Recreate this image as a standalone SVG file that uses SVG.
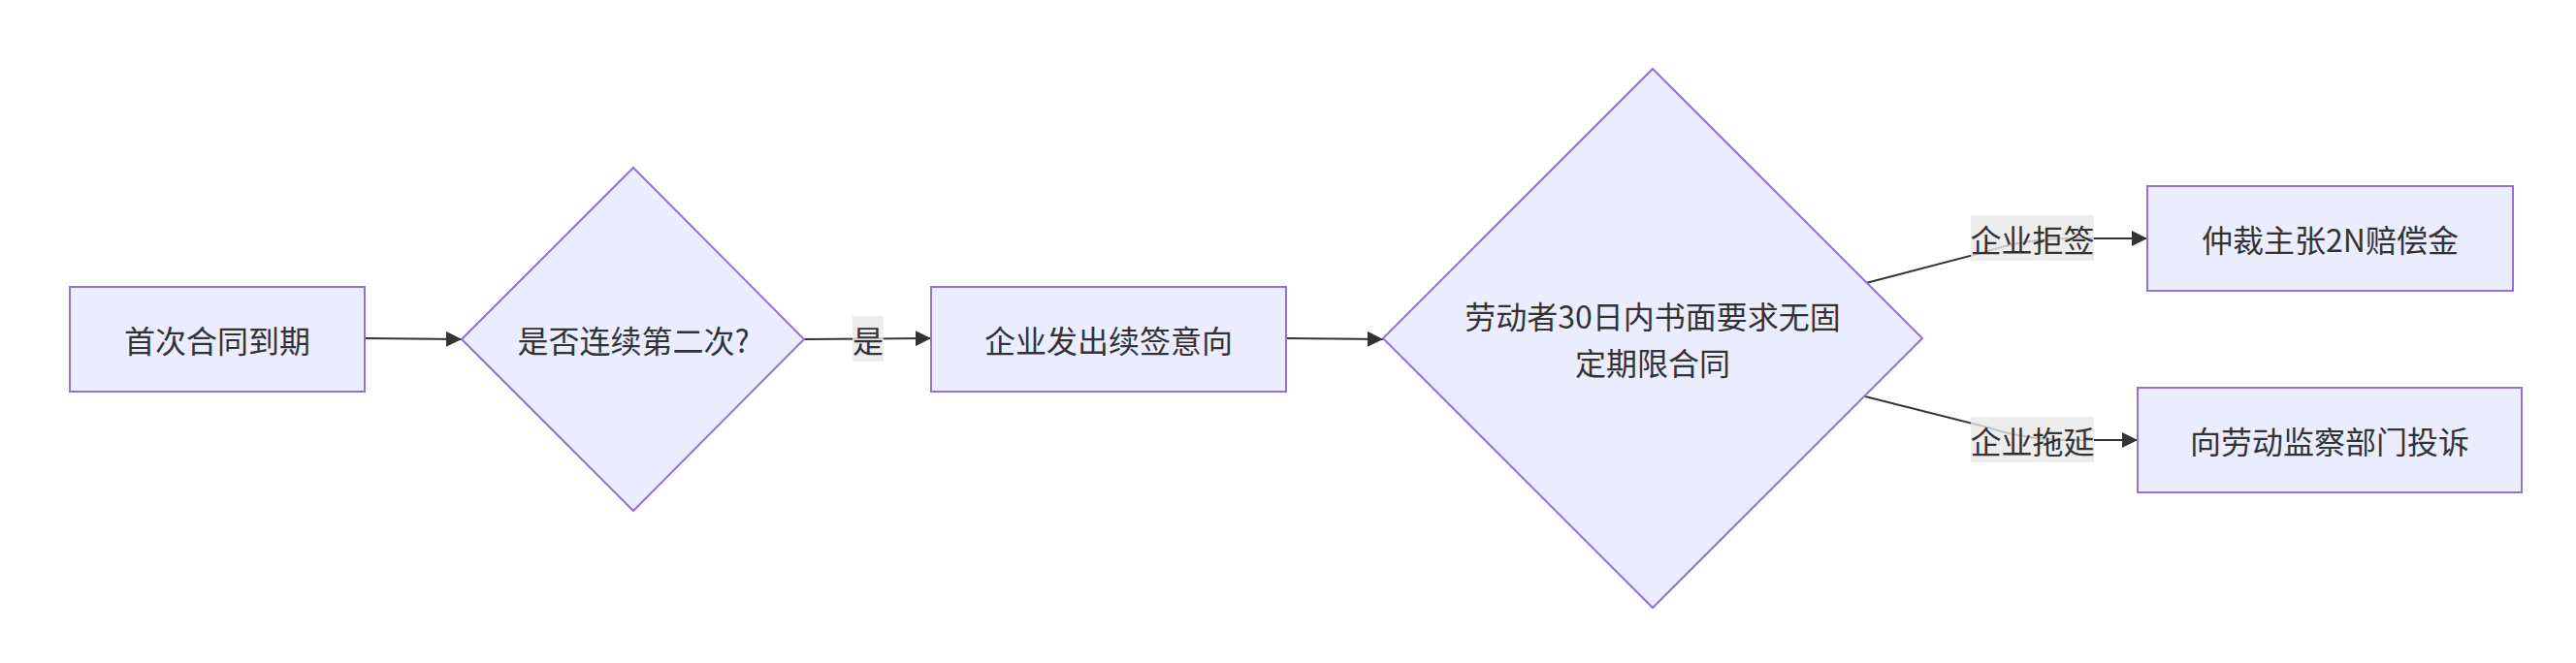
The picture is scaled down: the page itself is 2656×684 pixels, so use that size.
<svg xmlns="http://www.w3.org/2000/svg" width="2656" height="684" viewBox="0 0 2656 684">
<style>
.node{fill:#ECECFF;stroke:#9370DB;stroke-width:2}
.t{font-family:"Noto Sans CJK SC","Liberation Sans",sans-serif;font-size:32px;fill:#333333;text-anchor:middle;dominant-baseline:central}
.edge{fill:none;stroke:#333333;stroke-width:2}
.lbl{fill:#E8E8E8;fill-opacity:0.8}
</style>
<defs>
<marker id="arr" markerUnits="userSpaceOnUse" markerWidth="16" markerHeight="16" viewBox="0 0 16 16" refX="16" refY="8" orient="auto">
<path d="M0,0 L16,8 L0,16 z" fill="#333333"/>
</marker>
</defs>
<rect width="2656" height="684" fill="#FFFFFF"/>
<g id="connectors">
<path class="edge" d="M376,349 L476,350" marker-end="url(#arr)"/>
<path class="edge" d="M829,350 L960,349" marker-end="url(#arr)"/>
<path class="edge" d="M1326,349 L1426,350" marker-end="url(#arr)"/>
<path class="edge" d="M1924,292 L2050,259 Q2085,247 2130,246 L2214,246" marker-end="url(#arr)"/>
<path class="edge" d="M1923,409 L2050,441 Q2085,453 2130,454 L2204,454" marker-end="url(#arr)"/>
</g>
<g id="edge-labels">
<g id="label-yes"><rect class="lbl" x="879" y="326" width="32" height="47"/><text class="t" x="895" y="349.5">是</text></g>
<g id="label-refuse"><rect class="lbl" x="2032" y="222" width="127" height="47"/><text class="t" x="2095.5" y="245.5">企业拒签</text></g>
<g id="label-delay"><rect class="lbl" x="2032" y="430" width="127" height="47"/><text class="t" x="2095.5" y="453.5">企业拖延</text></g>
</g>
<g id="node-A"><rect class="node" x="72" y="296" width="304" height="108"/><text class="t" x="224" y="350">首次合同到期</text></g>
<g id="node-B"><polygon class="node" points="653,173 829,350 653,527 476,350"/><text class="t" x="653" y="350">是否连续第二次?</text></g>
<g id="node-C"><rect class="node" x="960" y="296" width="366" height="108"/><text class="t" x="1143" y="350">企业发出续签意向</text></g>
<g id="node-D"><polygon class="node" points="1704,71 1982,349 1704,627 1426,349"/><text class="t" x="1704" y="325">劳动者30日内书面要求无固</text><text class="t" x="1704" y="373">定期限合同</text></g>
<g id="node-E"><rect class="node" x="2214" y="192" width="377" height="108"/><text class="t" x="2402.5" y="246">仲裁主张2N赔偿金</text></g>
<g id="node-F"><rect class="node" x="2204" y="400" width="396" height="108"/><text class="t" x="2402" y="454">向劳动监察部门投诉</text></g>
</svg>
